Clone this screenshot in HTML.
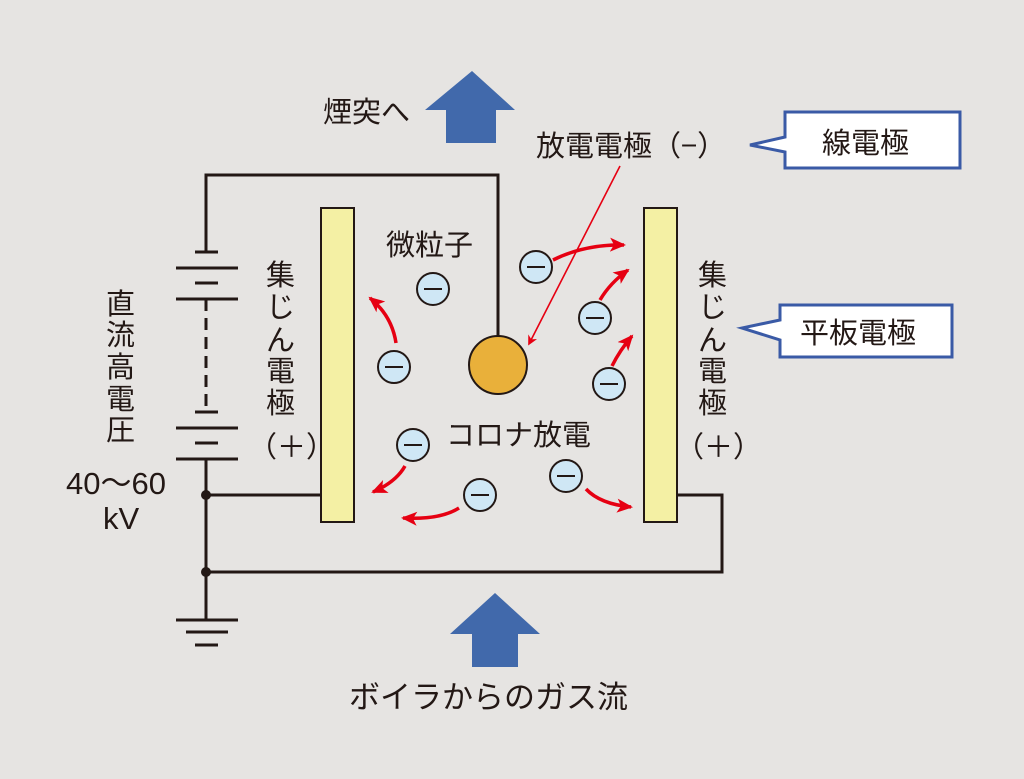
<!DOCTYPE html>
<html><head><meta charset="utf-8"><style>
html,body{margin:0;padding:0;background:#e6e4e2}
svg{display:block}
text{font-family:"Liberation Sans","Noto Sans CJK JP",sans-serif;fill:#231815}
.j{font-family:"Noto Sans CJK JP",sans-serif}
</style></head><body>
<svg width="1024" height="779" viewBox="0 0 1024 779" xmlns="http://www.w3.org/2000/svg">
<defs>
<marker id="ar" markerWidth="10" markerHeight="10" refX="6" refY="5" orient="auto" markerUnits="userSpaceOnUse" viewBox="0 0 10 10">
<path d="M0,0 L10,5 L0,10 L3,5 Z" fill="#e60012"/></marker>
<marker id="ar2" markerWidth="16" markerHeight="16" refX="14" refY="8" orient="auto" markerUnits="userSpaceOnUse" viewBox="0 0 16 16">
<path d="M0,1 L16,8 L0,15 L4,8 Z" fill="#e60012"/></marker>
</defs>
<rect width="1024" height="779" fill="#e6e4e2"/>
<polygon points="472,71 515,110 496,110 496,143 446,143 446,110 425,110" fill="#4169ab"/>
<polygon points="495,593 540,634 518,634 518,667 472,667 472,634 450,634" fill="#4169ab"/>
<g stroke="#231815" stroke-width="3" fill="none">
<path d="M206,252 V175 H498 V338"/>
<path d="M195,252 H218 M176,268 H238 M195,283 H218 M176,299 H238"/>
<path d="M206,299 V410" stroke-dasharray="12,7"/>
<path d="M195,412 H218 M176,428 H238 M195,443 H218 M176,459 H238"/>
<path d="M206,459 V620"/>
<path d="M206,495 H321"/>
<path d="M206,572 H722 V495 H677"/>
<path d="M176,620 H238 M186,632 H228 M195,645 H218"/>
</g>
<circle cx="206" cy="495" r="5" fill="#231815"/>
<circle cx="206" cy="572" r="5" fill="#231815"/>
<rect x="321" y="208" width="33" height="314" fill="#f4f0a4" stroke="#231815" stroke-width="2"/>
<rect x="644" y="208" width="33" height="314" fill="#f4f0a4" stroke="#231815" stroke-width="2"/>
<circle cx="498" cy="365" r="29" fill="#e9b03a" stroke="#231815" stroke-width="2"/>
<path d="M785,112 H960 V168 H785 V152 L750,145 L785,137 Z" fill="#ffffff" stroke="#3a5aa6" stroke-width="3"/>
<path d="M780,305 H952 V357 H780 V340 L742,328 L780,320 Z" fill="#ffffff" stroke="#3a5aa6" stroke-width="3"/>
<g font-size="29">
<text x="323" y="122">煙突へ</text>
<text x="349" y="708" font-size="31">ボイラからのガス流</text>
<text x="266" y="285">集</text><text x="266" y="317">じ</text><text x="266" y="350">ん</text><text x="266" y="381">電</text><text x="266" y="413">極</text>
<text x="248" y="457" class="j">（＋）</text>
<text x="698" y="285">集</text><text x="698" y="317">じ</text><text x="698" y="350">ん</text><text x="698" y="381">電</text><text x="698" y="413">極</text>
<text x="675" y="457" class="j">（＋）</text>
<text x="106" y="314">直</text><text x="106" y="345">流</text><text x="106" y="377">高</text><text x="106" y="409">電</text><text x="106" y="440">圧</text>
<text x="386" y="255">微粒子</text>
<text x="446" y="445">コロナ放電</text>
<text x="536" y="156" class="j">放電電極（−）</text>
<text x="822" y="153">線電極</text>
<text x="800" y="343">平板電極</text>
</g>
<text x="66" y="494" font-size="31">40〜60</text>
<text x="103" y="529" font-size="31">kV</text>
<line x1="620" y1="166" x2="530" y2="342" stroke="#e60012" stroke-width="1.6" marker-end="url(#ar)"/>
<g fill="#cfe7f5" stroke="#231815" stroke-width="2">
<circle cx="433" cy="289" r="16"/><circle cx="536" cy="267" r="16"/><circle cx="595" cy="318" r="16"/>
<circle cx="394" cy="367" r="16"/><circle cx="609" cy="384" r="16"/><circle cx="413" cy="445" r="16"/>
<circle cx="566" cy="476" r="16"/><circle cx="480" cy="495" r="16"/>
</g>
<g stroke="#231815" stroke-width="2">
<line x1="424" y1="289" x2="442" y2="289"/><line x1="527" y1="267" x2="545" y2="267"/><line x1="586" y1="318" x2="604" y2="318"/>
<line x1="385" y1="367" x2="403" y2="367"/><line x1="600" y1="384" x2="618" y2="384"/><line x1="404" y1="445" x2="422" y2="445"/>
<line x1="557" y1="476" x2="575" y2="476"/><line x1="471" y1="495" x2="489" y2="495"/>
</g>
<g stroke="#e60012" stroke-width="3.5" fill="none" marker-end="url(#ar2)">
<path d="M396,343 Q392,316 370,298"/>
<path d="M553,260 Q585,244 624,245"/>
<path d="M600,300 Q610,283 628,270"/>
<path d="M612,366 Q620,350 632,336"/>
<path d="M405,466 Q396,482 373,492"/>
<path d="M459,508 Q440,520 403,518"/>
<path d="M586,489 Q600,504 631,507"/>
</g>
</svg>
</body></html>
